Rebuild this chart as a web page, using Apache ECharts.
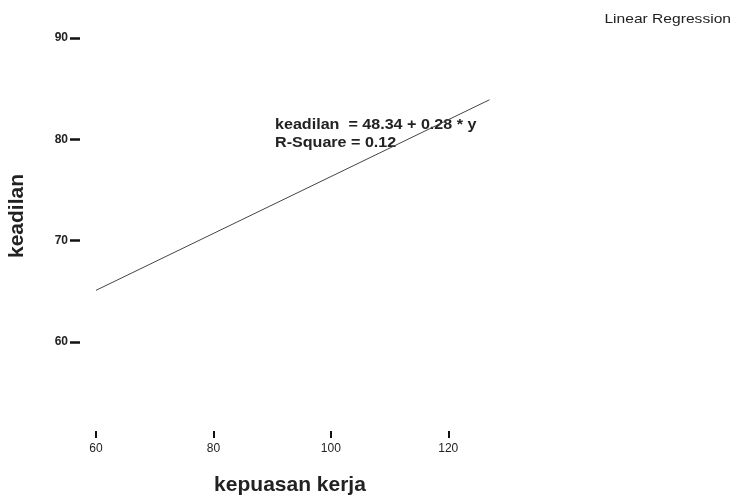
<!DOCTYPE html>
<html>
<head>
<meta charset="utf-8">
<script src="https://cdn.jsdelivr.net/npm/echarts@6/dist/echarts.min.js"></script>
<style>html,body{margin:0;padding:0;background:#fff}#c{width:733px;height:500px}</style>
</head>
<body>
<div id="c"></div>
<script>
const xTicks = [60, 80, 100, 120];
const yTicks = [60, 70, 80, 90];
const lineX = [60, 127];
const lineY = [65.1, 83.9];
const xTitle = 'kepuasan kerja';
const yTitle = 'keadilan';
const eqText = 'keadilan  = 48.34 + 0.28 * y';
const r2Text = 'R-Square = 0.12';
const cornerText = 'Linear Regression';

const chart = echarts.init(document.getElementById('c'));
const font = 'Liberation Sans, Arial, sans-serif';
chart.setOption({
  animation: false,
  grid: { left: 96, right: 226, top: 38, bottom: 158, containLabel: false, outerBoundsMode: 'none' },
  xAxis: {
    type: 'value', min: 60, max: 130,
    offset: 89,
    axisLine: { show: false },
    splitLine: { show: false },
    axisTick: { show: true, length: 7, lineStyle: { color: '#111', width: 2 }, customValues: xTicks },
    axisLabel: { customValues: xTicks, margin: 12, color: '#222', fontSize: 12, fontFamily: font }
  },
  yAxis: {
    type: 'value', min: 60, max: 90, interval: 10,
    offset: 16,
    axisLine: { show: false },
    splitLine: { show: false },
    axisTick: { show: true, length: 10, lineStyle: { color: '#111', width: 2.5 } },
    axisLabel: { margin: 12, color: '#222', fontSize: 12, fontWeight: 'bold', fontFamily: font }
  },
  series: [{
    type: 'line',
    data: lineX.map((x, i) => [x, lineY[i]]),
    showSymbol: false,
    clip: false,
    lineStyle: { color: '#444', width: 1 }
  }],
  graphic: [
    { type: 'text', x: 275, y: 125, scaleX: 1.15, style: { text: eqText, font: 'bold 14px ' + font, fill: '#222', textVerticalAlign: 'middle' } },
    { type: 'text', x: 275, y: 143, scaleX: 1.15, style: { text: r2Text, font: 'bold 14px ' + font, fill: '#222', textVerticalAlign: 'middle' } },
    { type: 'text', x: 731, y: 19, scaleX: 1.2, style: { text: cornerText, font: '13px ' + font, fill: '#222', textAlign: 'right', textVerticalAlign: 'middle' } },
    { type: 'text', x: 290, y: 485, style: { text: xTitle, font: 'bold 21px ' + font, fill: '#222', textAlign: 'center', textVerticalAlign: 'middle' } },
    { type: 'text', x: 17, y: 216, rotation: Math.PI / 2, style: { text: yTitle, font: 'bold 21px ' + font, fill: '#222', textAlign: 'center', textVerticalAlign: 'middle' } }
  ]
});
</script>
</body>
</html>
